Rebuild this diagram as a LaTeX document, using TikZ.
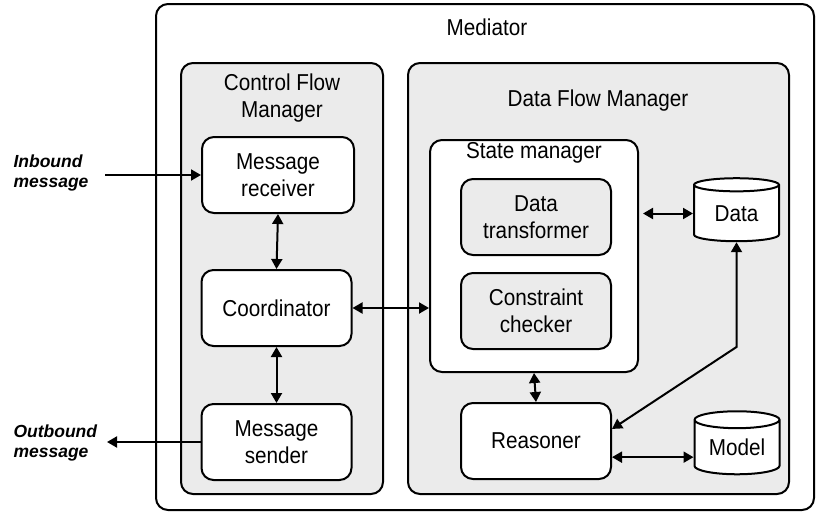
\documentclass[tikz,border=0pt]{standalone}
\usepackage{fontspec}
\setmainfont{Liberation Sans}[FakeStretch=0.9]
\newfontfamily\lblfont{Liberation Sans}
\usetikzlibrary{arrows.meta,shapes.geometric}
\definecolor{panel}{gray}{0.92}

\begin{document}
\begin{tikzpicture}[x=1pt,y=-1pt,
  font=\fontsize{23}{27}\selectfont,>={Triangle[length=10pt,width=11pt]},
  lbl/.style={font=\lblfont\bfseries\itshape\fontsize{17.5}{20}\selectfont,
    align=left,anchor=west},
  grp/.style={draw,line width=2pt,rounded corners=12pt,fill=panel,inner sep=0pt},
  box/.style={draw,line width=2pt,rounded corners=12pt,align=center,
    inner sep=0pt,minimum width=150pt,minimum height=76pt},
  db/.style={draw,line width=2pt,cylinder,shape border rotate=90,aspect=0.3,
    fill=white,inner sep=0pt,minimum width=85pt,minimum height=63pt},
  ar/.style={line width=2pt,<->},
]
\useasboundingbox (0,0) rectangle (819,514);

% ============================================================
% Containers
% ============================================================
\node[draw,line width=2pt,rounded corners=12pt,minimum width=658pt,
  minimum height=506pt] (med) at (485,257) {};
\node (medT) at (487,27) {Mediator};

\node[grp,minimum width=202pt,minimum height=431pt] (cfm) at (282,278.5) {};
\node[align=center] (cfmT) at (282,98) {Control Flow\\Manager};

\node[grp,minimum width=381pt,minimum height=431pt] (dfm) at (598.5,278.5) {};
\node (dfmT) at (598,101) {Data Flow Manager};

% ============================================================
% Control flow side
% ============================================================
\node[box,fill=white,minimum width=152pt] (rcv) at (278,175) {Message\\receiver};
\node[box,fill=white] (crd) at (276.5,308) {Coordinator};
\node[box,fill=white] (snd) at (276.5,442) {Message\\sender};

% Inbound / outbound
\node[lbl] (inT) at (10,173) {Inbound\\message};
\node[lbl] (outT) at (10,443) {Outbound\\message};
\coordinate (in) at (105,175);
\coordinate (out) at (107,442);
\draw[line width=2pt,->] (in) -- (rcv.west);
\draw[line width=2pt,->] (snd.west) -- (out);

% ============================================================
% Data flow side
% ============================================================
\node[box,fill=white,minimum width=208pt,minimum height=232pt] (stm) at (534,256) {};
\node (stmT) at (534,153) {State manager};
\node[box,fill=panel] (dtr) at (536,217) {Data\\transformer};
\node[box,fill=panel] (chk) at (536,311) {Constraint\\checker};
\node[box,fill=white] (rsn) at (536,441) {Reasoner};

\node[db] (dat) at (736.5,213.5) {Data};
\node[db] (mdl) at (737,447.5) {Model};

% ============================================================
% Connectors
% ============================================================
\draw[ar] (rcv.south) -- (crd.north);
\draw[ar] (crd.south) -- (snd.north);
\draw[ar] (crd.east) -- (crd.east -| stm.west);
\draw[ar] (stm.south) -- (rsn.north);
\draw[ar,shorten <=4pt] (stm.east |- dat.west) -- (dat.west);
\coordinate (bend) at (736.5,347);
\draw[ar] (dat.south) -- (bend) -- (rsn.9);
\draw[ar] (rsn.-12) -- (rsn.-12 -| mdl.west);

\end{tikzpicture}
\end{document}
